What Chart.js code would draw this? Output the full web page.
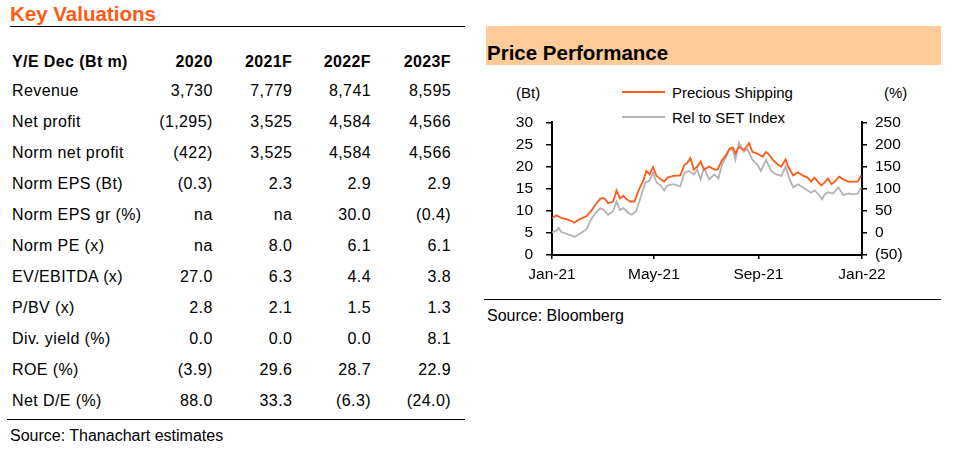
<!DOCTYPE html>
<html>
<head>
<meta charset="utf-8">
<script src="https://cdn.jsdelivr.net/npm/chart.js@4.4.1/dist/chart.umd.min.js"></script>
<style>
  html, body { margin: 0; padding: 0; background: #fff; }
  #page { position: relative; width: 953px; height: 451px; overflow: hidden; font-family: "Liberation Sans", Arial, sans-serif; color: #000; }
  .abs { position: absolute; white-space: nowrap; }
  .title { font-size: 20.5px; font-weight: bold; line-height: 24px; }
  .cell { font-size: 16px; line-height: 20px; letter-spacing: 0.4px; }
  .num { width: 90px; text-align: right; }
  .hdr { font-weight: bold; }
  .leg { font-size: 15px; line-height: 18px; }
</style>
</head>
<body>
<div id="page">
  <!-- 左：Key Valuations -->
  <div class="abs title" style="left:10px; top:1.6px; color:#ff5b14;">Key Valuations</div>
  <div class="abs" style="left:10px; top:26px; width:455px; height:1px; background:#000;"></div>
  <div id="table"></div>
  <div class="abs" style="left:7px; top:418.5px; width:458px; height:1px; background:#000;"></div>
  <div class="abs cell" style="left:10px; top:425.5px; letter-spacing:0;">Source: Thanachart estimates</div>

  <!-- 右：Price Performance -->
  <div class="abs" style="left:486px; top:26px; width:455px; height:39px; background:#ffcc99;"></div>
  <div class="abs title" style="left:487px; top:40.9px;">Price Performance</div>

  <div class="abs leg" style="left:516px; top:83.8px;">(Bt)</div>
  <div class="abs leg" style="left:884px; top:83.8px;">(%)</div>
  <div class="abs" style="left:622px; top:91px; width:43px; height:2px; background:#ff5a1a;"></div>
  <div class="abs leg" style="left:672px; top:83.5px;">Precious Shipping</div>
  <div class="abs" style="left:622px; top:116px; width:43px; height:2px; background:#b3b3b3;"></div>
  <div class="abs leg" style="left:672px; top:109.1px;">Rel to SET Index</div>

  <canvas id="priceChart" class="abs" width="455" height="190" style="left:486px; top:100px; width:455px; height:190px;"></canvas>

  <div class="abs" style="left:484px; top:299px; width:457px; height:1px; background:#000;"></div>
  <div class="abs cell" style="left:487px; top:306.2px; letter-spacing:0;">Source: Bloomberg</div>
</div>

<script>
// テーブルのデータ
const tableYears = ['2020', '2021F', '2022F', '2023F'];
const tableRows = ['Revenue', 'Net profit', 'Norm net profit', 'Norm EPS (Bt)', 'Norm EPS gr (%)', 'Norm PE (x)',
  'EV/EBITDA (x)', 'P/BV (x)', 'Div. yield (%)', 'ROE (%)', 'Net D/E (%)'];
const val2020 = ['3,730', '(1,295)', '(422)', '(0.3)', 'na', 'na', '27.0', '2.8', '0.0', '(3.9)', '88.0'];
const val2021 = ['7,779', '3,525', '3,525', '2.3', 'na', '8.0', '6.3', '2.1', '0.0', '29.6', '33.3'];
const val2022 = ['8,741', '4,584', '4,584', '2.9', '30.0', '6.1', '4.4', '1.5', '0.0', '28.7', '(6.3)'];
const val2023 = ['8,595', '4,566', '4,566', '2.9', '(0.4)', '6.1', '3.8', '1.3', '8.1', '22.9', '(24.0)'];

// チャートのデータ（1月1日からの日数）
const xTickDays = [0, 120, 243, 365];
const xTickLabels = ['Jan-21', 'May-21', 'Sep-21', 'Jan-22'];

const psDays = [0, 5, 11, 17, 23, 26, 29, 33, 41, 47, 51, 57, 62, 66, 72, 76, 80, 84, 88, 92,
  97, 102, 108, 111, 115, 119, 123, 128, 132, 136, 143, 151, 156, 159, 163, 167, 171, 175, 179, 185,
  191, 195, 200, 205, 209, 213, 216, 220, 226, 232, 236, 242, 248, 252, 256, 260, 266, 270, 275, 278,
  284, 290, 295, 301, 305, 309, 313, 317, 321, 325, 329, 333, 338, 343, 349, 355, 360, 364];
const psPrice = [8.3, 9.0, 8.4, 8.1, 7.7, 7.3, 7.7, 8.1, 8.8, 10.2, 11.3, 12.8, 12.8, 11.7, 12.1, 14.6, 12.8, 13.4, 12.6, 12.1,
  12.1, 14.6, 17.1, 19.0, 18.2, 19.9, 17.9, 17.1, 16.6, 17.5, 17.9, 18.0, 20.4, 20.8, 21.9, 19.3, 20.0, 21.1, 19.3, 20.0,
  19.3, 19.3, 21.4, 22.6, 24.0, 24.3, 22.9, 24.4, 23.7, 25.3, 23.3, 22.9, 22.2, 23.3, 22.6, 21.5, 20.4, 20.0, 21.6, 20.0,
  18.0, 18.7, 18.0, 17.5, 16.6, 17.5, 16.6, 15.7, 16.4, 17.3, 16.0, 16.6, 17.7, 17.1, 16.6, 16.6, 16.6, 18.0];

const relDays = [0, 5, 8, 11, 17, 23, 27, 33, 41, 45, 51, 57, 61, 66, 72, 76, 80, 84, 90, 94,
  99, 104, 110, 115, 119, 123, 128, 132, 136, 143, 151, 156, 161, 167, 171, 175, 179, 185, 191, 196,
  200, 205, 209, 213, 216, 220, 226, 230, 236, 242, 246, 252, 258, 264, 270, 275, 279, 284, 290, 295,
  301, 305, 309, 313, 318, 321, 325, 331, 337, 343, 349, 355, 360, 364];
const relPct = [1, 5, 11, 2, -2, -6, -9, -2, 9, 27, 45, 56, 52, 41, 49, 71, 52, 56, 45, 41,
  49, 78, 114, 118, 136, 114, 107, 96, 107, 110, 105, 136, 140, 132, 143, 121, 147, 121, 132, 123,
  154, 172, 190, 187, 165, 204, 183, 190, 165, 154, 140, 165, 140, 132, 129, 150, 125, 103, 110, 103,
  96, 91, 96, 89, 76, 87, 92, 89, 103, 85, 89, 87, 89, 103];

// テーブル描画
function buildTable() {
  const root = document.getElementById('table');
  const colRight = [212.7, 292.3, 371, 451];
  const addCell = (text, left, top, cls) => {
    const d = document.createElement('div');
    d.className = 'abs cell ' + cls;
    d.style.left = left + 'px';
    d.style.top = top + 'px';
    d.textContent = text;
    root.appendChild(d);
  };
  addCell('Y/E Dec (Bt m)', 12, 51.8, 'hdr');
  tableYears.forEach((y, j) => addCell(y, colRight[j] - 90, 51.8, 'hdr num'));
  const cols = [val2020, val2021, val2022, val2023];
  tableRows.forEach((label, i) => {
    const top = 81.2 + i * 31;
    addCell(label, 12, top, '');
    cols.forEach((c, j) => addCell(c[i], colRight[j] - 90, top, 'num'));
  });
}

// グラフ描画
function initChart() {
  const ctx = document.getElementById('priceChart').getContext('2d');
  const axisFont = { family: '"Liberation Sans", Arial, sans-serif', size: 15.5 };
  window.priceChart = new Chart(ctx, {
    type: 'line',
    data: {
      datasets: [{
        label: 'Precious Shipping',
        data: psDays.map((d, i) => ({ x: d, y: psPrice[i] })),
        yAxisID: 'y',
        borderColor: '#ff5a1a',
        borderWidth: 1.8,
        pointRadius: 0,
        tension: 0
      }, {
        label: 'Rel to SET Index',
        data: relDays.map((d, i) => ({ x: d, y: relPct[i] })),
        yAxisID: 'y1',
        borderColor: '#b3b3b3',
        borderWidth: 1.8,
        pointRadius: 0,
        tension: 0
      }]
    },
    options: {
      responsive: false,
      animation: false,
      layout: { padding: { top: 18, left: 0, right: 0, bottom: 0 } },
      plugins: { legend: { display: false }, tooltip: { enabled: false } },
      scales: {
        x: {
          type: 'linear', min: 0, max: 365,
          afterBuildTicks: s => { s.ticks = xTickDays.map(v => ({ value: v })); },
          afterFit: s => { s.height = 35; },
          ticks: {
            callback: v => xTickLabels[xTickDays.indexOf(v)],
            color: '#000', font: axisFont, maxRotation: 0, autoSkip: false, padding: 6
          },
          grid: { drawOnChartArea: false, drawTicks: true, tickLength: 4, color: '#000', lineWidth: 1.5 },
          border: { display: true, color: '#000', width: 2 }
        },
        y: {
          position: 'left', min: 0, max: 30,
          afterFit: s => { s.width = 66; },
          ticks: { stepSize: 5, color: '#000', font: axisFont, padding: 13 },
          grid: { drawOnChartArea: false, drawTicks: true, tickLength: 6, color: '#000', lineWidth: 1.5 },
          border: { display: true, color: '#000', width: 2 }
        },
        y1: {
          position: 'right', min: -50, max: 250,
          afterFit: s => { s.width = 79; },
          ticks: {
            stepSize: 50, color: '#000', font: axisFont, padding: 8,
            callback: v => v < 0 ? '(' + Math.abs(v) + ')' : String(v)
          },
          grid: { drawOnChartArea: false, drawTicks: true, tickLength: 5, color: '#000', lineWidth: 1.5 },
          border: { display: true, color: '#000', width: 2 }
        }
      }
    }
  });
}

document.addEventListener('DOMContentLoaded', () => {
  buildTable();
  initChart();
});
</script>
</body>
</html>
